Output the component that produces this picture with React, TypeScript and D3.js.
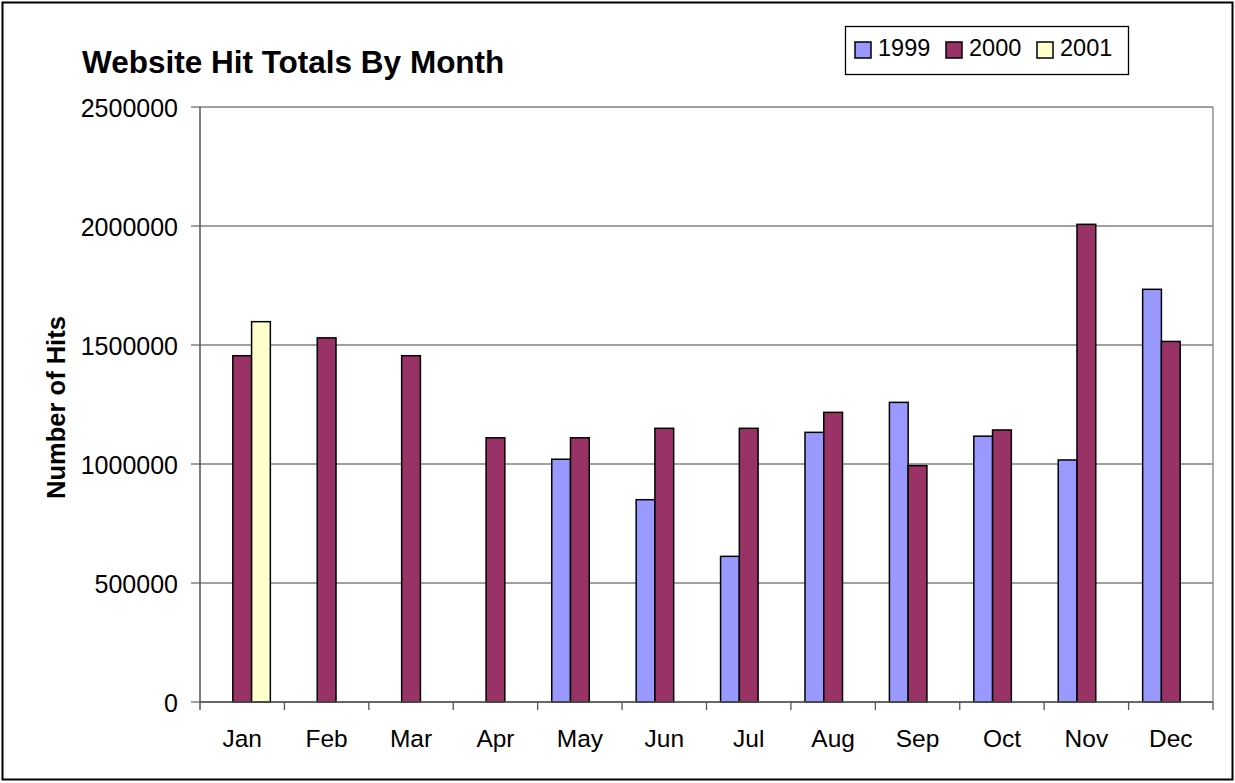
import React from "react";
import * as d3 from "d3";

const months = ["Jan", "Feb", "Mar", "Apr", "May", "Jun", "Jul", "Aug", "Sep", "Oct", "Nov", "Dec"];
const seriesNames = ["1999", "2000", "2001"];
const colors = ["#9999FF", "#993366", "#FFFFCC"];
const hits1999: (number | null)[] = [null, null, null, null, 1020000, 850000, 612000, 1133000, 1259000, 1117000, 1017000, 1734000];
const hits2000: (number | null)[] = [1455000, 1530000, 1455000, 1110000, 1110000, 1150000, 1150000, 1217000, 993000, 1143000, 2007000, 1515000];
const hits2001: (number | null)[] = [1598000, null, null, null, null, null, null, null, null, null, null, null];
const yTicks = [0, 500000, 1000000, 1500000, 2000000, 2500000];

const W = 1235, H = 783;
const L = 200, R = 1213, T = 107, B = 702;
const FONT = "Liberation Sans, Arial, sans-serif";

export default function App() {
  const allSeries = [hits1999, hits2000, hits2001];
  const x = d3.scaleBand<string>().domain(months).range([L, R]).paddingInner(0).paddingOuter(0);
  const bw = x.bandwidth();
  const barW = bw / 4.5;
  const y = d3.scaleLinear().domain([0, 2500000]).range([B, T]);

  return (
    <svg width={W} height={H} style={{ position: "absolute", left: 0, top: 0, background: "#fff" }}>
      <rect x={2.5} y={2.5} width={1230} height={777} fill="#fff" stroke="#000" strokeWidth={2} />
      <text x={82} y={73} fontFamily={FONT} fontWeight="bold" fontSize={31.5}>Website Hit Totals By Month</text>
      {/* gridlines */}
      {yTicks.map((t) => (
        <line key={"g" + t} x1={L - 9} x2={R} y1={y(t)} y2={y(t)} stroke="#808080" strokeWidth={1.3} />
      ))}
      <line x1={R} x2={R} y1={T} y2={B} stroke="#808080" strokeWidth={1.3} />
      {/* bars */}
      {allSeries.map((s, si) =>
        s.map((v, mi) => {
          if (v == null) return null;
          const cx = (x(months[mi]) as number) + bw / 2;
          const x0 = cx - 1.5 * barW + si * barW;
          return (
            <rect key={si + "-" + mi} x={x0} y={y(v)} width={barW} height={B - y(v)}
              fill={colors[si]} stroke="#000" strokeWidth={1.5} />
          );
        })
      )}
      {/* axes */}
      <line x1={L} x2={L} y1={T} y2={B + 8} stroke="#555" strokeWidth={1.5} />
      <line x1={L} x2={R} y1={B} y2={B} stroke="#555" strokeWidth={1.5} />
      {months.map((m, i) => (
        <line key={"xt" + m} x1={L + (i + 1) * bw} x2={L + (i + 1) * bw} y1={B} y2={B + 8} stroke="#555" strokeWidth={1.3} />
      ))}
      {yTicks.map((t) => (
        <text key={"yl" + t} x={L - 22} y={y(t) + 10} textAnchor="end" fontFamily={FONT} fontSize={25}>{t}</text>
      ))}
      {months.map((m) => (
        <text key={"xl" + m} x={(x(m) as number) + bw / 2} y={747} textAnchor="middle" fontFamily={FONT} fontSize={24.5}>{m}</text>
      ))}
      <text transform={`translate(65, ${(T + B) / 2 + 3}) rotate(-90)`} textAnchor="middle" fontFamily={FONT} fontWeight="bold" fontSize={25.5}>Number of Hits</text>
      {/* legend */}
      <rect x={845.5} y={26.5} width={283} height={48} fill="#fff" stroke="#000" strokeWidth={1.3} />
      {seriesNames.map((n, i) => {
        const sx = [855, 946, 1037][i];
        return (
          <g key={"lg" + n}>
            <rect x={sx} y={42} width={16} height={16} fill={colors[i]} stroke="#000" strokeWidth={1.5} />
            <text x={sx + 23} y={56} fontFamily={FONT} fontSize={23.5}>{n}</text>
          </g>
        );
      })}
    </svg>
  );
}
